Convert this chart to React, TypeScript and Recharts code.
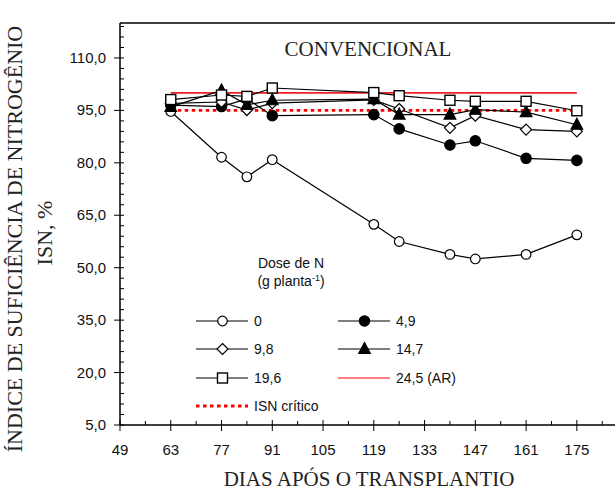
import React from 'react';
import { LineChart, Line, XAxis, YAxis, ReferenceLine } from 'recharts';

// dias após o transplantio
const days = [63, 77, 84, 91, 119, 126, 140, 147, 161, 175];

// ISN (%) por dose de N (g planta-1)
const dose0 = [94.7, 81.6, 76.0, 80.9, 62.4, 57.5, 53.8, 52.5, 53.8, 59.4];
const dose49 = [96.5, 96.1, 98.3, 93.5, 93.8, 89.7, 85.1, 86.3, 81.3, 80.7];
const dose98 = [97.0, 97.4, 95.1, 97.1, 98.0, 95.4, 90.0, 93.5, 89.5, 89.0];
const dose147 = [96.0, 100.7, 96.6, 97.9, 98.2, 93.8, 93.8, 95.2, 94.5, 90.9];
const dose196 = [98.1, 99.4, 99.0, 101.4, 100.1, 99.2, 97.9, 97.6, 97.6, 94.9];
const dose245 = [100, 100, 100, 100, 100, 100, 100, 100, 100, 100];
const isnCritico = [95, 95, 95, 95, 95, 95, 95, 95, 95, 95];

const xTicks = [49, 56, 63, 70, 77, 84, 91, 98, 105, 112, 119, 126, 133, 140, 147, 154, 161, 168, 175, 182, 189];
const yTicks = [5, 8, 11, 14, 17, 20, 23, 26, 29, 32, 35, 38, 41, 44, 47, 50, 53, 56, 59, 62, 65, 68, 71, 74, 77, 80, 83, 86, 89, 92, 95, 98, 101, 104, 107, 110, 113, 116, 119];

const data = days.map((d, i) => ({
  day: d,
  d0: dose0[i],
  d49: dose49[i],
  d98: dose98[i],
  d147: dose147[i],
  d196: dose196[i],
  d245: dose245[i],
  crit: isnCritico[i],
}));

const sans = '"Liberation Sans", Arial, sans-serif';
const serif = '"Liberation Serif", "Times New Roman", serif';

type Shape = 'openCircle' | 'circle' | 'diamond' | 'triangle' | 'square';

const marker = (shape: Shape, cx: number, cy: number, key?: string) => {
  const sw = 1.2;
  switch (shape) {
    case 'openCircle':
      return <circle key={key} cx={cx} cy={cy} r={4.8} fill="#fff" stroke="#000" strokeWidth={sw} />;
    case 'circle':
      return <circle key={key} cx={cx} cy={cy} r={5.2} fill="#000" stroke="#000" strokeWidth={sw} />;
    case 'diamond':
      return (
        <polygon key={key} points={`${cx},${cy - 5.5} ${cx + 5.5},${cy} ${cx},${cy + 5.5} ${cx - 5.5},${cy}`}
          fill="#fff" stroke="#000" strokeWidth={sw} />
      );
    case 'triangle':
      return (
        <polygon key={key} points={`${cx},${cy - 6.5} ${cx + 5.8},${cy + 4.5} ${cx - 5.8},${cy + 4.5}`}
          fill="#000" stroke="#000" strokeWidth={sw} />
      );
    default:
      return <rect key={key} x={cx - 5} y={cy - 5} width={10} height={10} fill="#fff" stroke="#000" strokeWidth={1.4} />;
  }
};

const dotOf = (shape: Shape) => (p: any) => marker(shape, p.cx, p.cy, `${shape}-${p.index}`);

const XTick = (p: any) => {
  const v = p.payload.value;
  const major = (v - 49) % 14 === 0;
  return (
    <g>
      <line x1={p.x} x2={p.x} y1={p.y - (major ? 5 : 4)} y2={p.y + (major ? 6 : 0)} stroke="#000" strokeWidth={1} />
      {major && v < 189 && (
        <text x={p.x} y={p.y + 30} textAnchor="middle" fontFamily={sans} fontSize={15} fill="#111">{v}</text>
      )}
    </g>
  );
};

const YTick = (p: any) => {
  const v = p.payload.value;
  const major = (v - 5) % 15 === 0;
  return (
    <g>
      <line x1={p.x - (major ? 6 : 0)} x2={p.x + 4} y1={p.y} y2={p.y} stroke="#000" strokeWidth={1} />
      {major && (
        <text x={p.x - 14} y={p.y + 5} textAnchor="end" fontFamily={sans} fontSize={15} fill="#111">
          {v.toFixed(1).replace('.', ',')}
        </text>
      )}
    </g>
  );
};

const LegendRow = ({ x, y, shape, label, red, dotted }: any) => (
  <g>
    <line x1={x} x2={x + 52} y1={y} y2={y}
      stroke={red ? '#ff0000' : '#000'} strokeWidth={dotted ? 2.8 : 1.2}
      strokeDasharray={dotted ? '3.5 3.5' : undefined} />
    {shape && marker(shape, x + 26.5, y)}
    <text x={x + 58} y={y + 5} fontFamily={sans} fontSize={14} fill="#111">{label}</text>
  </g>
);

const App: React.FC = () => {
  return (
    <div style={{ position: 'absolute', left: 0, top: 0, width: 615, height: 492, overflow: 'hidden', background: '#fff' }}>
      <LineChart width={660} height={492} data={data} margin={{ top: 23, right: 7, bottom: 0, left: 0 }}>
        <XAxis dataKey="day" type="number" domain={[49, 196]} ticks={xTicks} interval={0}
          allowDataOverflow height={67} tickSize={0} tickMargin={0} tickLine={false}
          axisLine={{ stroke: '#000', strokeWidth: 1.5 }} tick={<XTick />} />
        <YAxis type="number" domain={[5, 120]} ticks={yTicks} interval={0} allowDataOverflow
          width={120} tickSize={0} tickMargin={0} tickLine={false}
          axisLine={{ stroke: '#000', strokeWidth: 1.5 }} tick={<YTick />} />
        <ReferenceLine y={120} stroke="#000" strokeWidth={1.5} />
        <Line dataKey="crit" stroke="#ff0000" strokeWidth={2.8} strokeDasharray="3.5 3.5" dot={false} isAnimationActive={false} />
        <Line dataKey="d245" stroke="#f02020" strokeWidth={1.8} dot={false} isAnimationActive={false} />
        <Line dataKey="d0" stroke="#000" strokeWidth={1.2} dot={dotOf('openCircle')} isAnimationActive={false} />
        <Line dataKey="d49" stroke="#000" strokeWidth={1.2} dot={dotOf('circle')} isAnimationActive={false} />
        <Line dataKey="d98" stroke="#000" strokeWidth={1.2} dot={dotOf('diamond')} isAnimationActive={false} />
        <Line dataKey="d147" stroke="#000" strokeWidth={1.2} dot={dotOf('triangle')} isAnimationActive={false} />
        <Line dataKey="d196" stroke="#000" strokeWidth={1.2} dot={dotOf('square')} isAnimationActive={false} />
      </LineChart>
      <svg width={615} height={492} style={{ position: 'absolute', left: 0, top: 0, pointerEvents: 'none' }}>
        <text x={368} y={56} textAnchor="middle" fontFamily={serif} fontSize={21} fill="#222">CONVENCIONAL</text>
        <text x={369} y={486} textAnchor="middle" fontFamily={serif} fontSize={21} fill="#222">DIAS APÓS O TRANSPLANTIO</text>
        <text transform="translate(22,239) rotate(-90)" textAnchor="middle" fontFamily={serif} fontSize={22} fill="#222">
          ÍNDICE DE SUFICIÊNCIA DE NITROGÊNIO
        </text>
        <text transform="translate(52,233) rotate(-90)" textAnchor="middle" fontFamily={serif} fontSize={22} fill="#222">
          ISN, %
        </text>
        <text x={291} y={268} textAnchor="middle" fontFamily={sans} fontSize={14} fill="#111">Dose de N</text>
        <text x={291} y={286} textAnchor="middle" fontFamily={sans} fontSize={14} fill="#111">
          (g planta<tspan dy={-5} fontSize={9}>-1</tspan><tspan dy={5}>)</tspan>
        </text>
        <LegendRow x={196} y={321} shape="openCircle" label="0" />
        <LegendRow x={338} y={321} shape="circle" label="4,9" />
        <LegendRow x={196} y={349} shape="diamond" label="9,8" />
        <LegendRow x={338} y={349} shape="triangle" label="14,7" />
        <LegendRow x={196} y={378} shape="square" label="19,6" />
        <LegendRow x={338} y={378} red label="24,5 (AR)" />
        <LegendRow x={196} y={406} red dotted label="ISN crítico" />
      </svg>
    </div>
  );
};

export default App;
